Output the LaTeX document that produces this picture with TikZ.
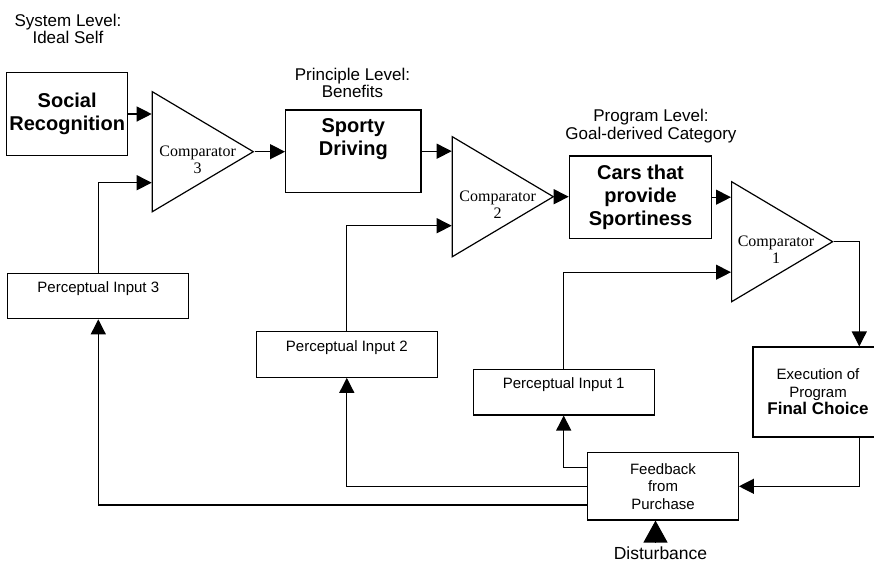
\documentclass[tikz,border=0pt]{standalone}
\usepackage{fontspec}
\setmainfont{Liberation Sans}
\newfontfamily\cmpfont{Liberation Serif}
\usepackage{tikz}
\usetikzlibrary{shapes.geometric,arrows.meta,positioning,calc}
\begin{document}
\begin{tikzpicture}[x=1pt,y=-1pt,
  box/.style={draw,line width=1.2pt,inner sep=0pt,align=center},
  title/.style={font=\fontsize{20pt}{23pt}\selectfont\bfseries,align=center,inner sep=0pt},
  lvl/.style={font=\fontsize{17pt}{17.5pt}\selectfont,align=center,inner sep=0pt},
  small/.style={font=\fontsize{15pt}{17.5pt}\selectfont,align=center,inner sep=0pt},
  percep/.style={draw,line width=1.2pt,minimum width=181pt,text height=19.5pt,text depth=26pt,
                 inner sep=0pt,font=\fontsize{15pt}{17.5pt}\selectfont},
  cmp/.style={isosceles triangle,isosceles triangle stretches,draw,line width=1.2pt,
              minimum width=120pt,minimum height=101pt,inner sep=0pt,anchor=west},
  cmptxt/.style={font=\cmpfont\fontsize{16pt}{16.5pt}\selectfont,align=center,inner sep=0pt},
  arr/.style={-{Triangle[length=15pt,width=15pt]},line width=1.2pt},
]
\useasboundingbox (0,0) rectangle (874,563);
\clip (0,0) rectangle (874,563);
\node[lvl] (sysl) at (68,28.7) {System Level:\\Ideal Self};
\node[lvl] (princl) at (352.5,82.8) {Principle Level:\\Benefits};
\node[lvl] (progl) at (651,125.9) {Program Level:\\Goal-derived Category};
\node[box,title,draw,line width=1.2pt,minimum width=121pt,minimum height=83.4pt] (social) at (67.2,114) {Social\\Recognition};
\node[box,minimum width=135.3pt,minimum height=82.3pt] (sporty) at (353.3,151.2) {};
\node[title,below=9pt of sporty.north] (sportyt) {Sporty\\Driving};
\node[box,title,draw,line width=1.2pt,minimum width=142.4pt,minimum height=82.3pt] (cars) at (640.5,197.2) {Cars that\\provide\\Sportiness};
\node[cmp] (c3) at (151.7,151.7) {};
\node[cmp] (c2) at (451.7,196.7) {};
\node[cmp] (c1) at (731,241.7) {};
\node[cmptxt] (c3t) at ([xshift=46pt,yshift=-8pt]c3.west) {Comparator\\3};
\node[cmptxt] (c2t) at ([xshift=46pt,yshift=-8pt]c2.west) {Comparator\\2};
\node[cmptxt] (c1t) at ([xshift=45pt,yshift=-8pt]c1.west) {Comparator\\1};
\node[percep] (p3) at (98.3,296) {Perceptual Input 3};
\node[percep] (p2) at (346.8,354.5) {Perceptual Input 2};
\node[percep] (p1) at (563.7,392.2) {Perceptual Input 1};
\node[box,small,draw,line width=1.2pt,minimum width=130pt,minimum height=90pt] (exec) at (818,392) {Execution of\\Program\\\fontsize{17pt}{17.5pt}\selectfont\textbf{Final Choice}};
\node[box,small,draw,line width=1.2pt,minimum width=150.6pt,minimum height=67.3pt] (fb) at (663,486.3) {Feedback\\from\\Purchase};
\node[lvl,font=\fontsize{17.5pt}{18pt}\selectfont] (dist) at (660.5,553.5) {Disturbance};
\draw[arr] (social.east) -- (social.east -| c3.west);
\draw[arr] (c3.apex) -- (c3.apex -| sporty.west);
\draw[arr] (sporty.east) -- (sporty.east -| c2.west);
\draw[arr] (c2.apex) -- (c2.apex -| cars.west);
\draw[arr] (cars.east) -- (cars.east -| c1.west);
\draw[arr] (p3.north) |- ([yshift=-31pt]c3.west);
\draw[arr] (p2.north) |- ([yshift=-29pt]c2.west);
\draw[arr] (p1.north) |- ([yshift=-30.5pt]c1.west);
\draw[arr] (c1.apex) -| ([xshift=41.3pt]exec.north);
\draw[arr] ([xshift=41.3pt]exec.south) |- (fb.east);
\draw[arr] ([yshift=18.7pt]fb.west) -| (p1.south);
\draw[arr] (fb.west) -| (p2.south);
\draw[arr] ([yshift=-18.7pt]fb.west) -| (p3.south);
\draw[-{Triangle[length=22pt,width=24pt]},line width=1.2pt,shorten <=4pt]
  ([xshift=-5pt]dist.north) -- ([xshift=-5pt]dist.north |- fb.south);
\end{tikzpicture}
\end{document}
